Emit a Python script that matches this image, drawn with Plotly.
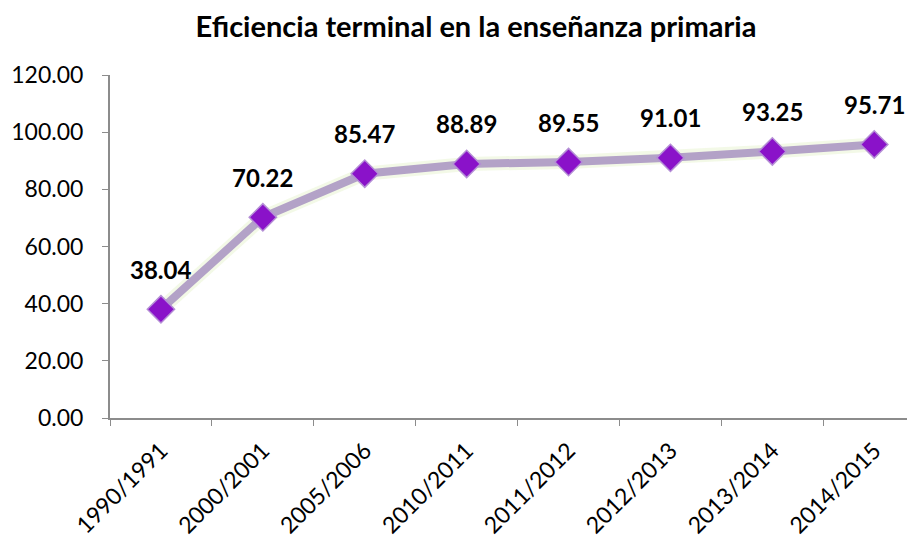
import plotly.graph_objects as go

categories = ["1990/1991", "2000/2001", "2005/2006", "2010/2011", "2011/2012", "2012/2013", "2013/2014", "2014/2015"]
values = [38.04, 70.22, 85.47, 88.89, 89.55, 91.01, 93.25, 95.71]
y_ticks = [0, 20, 40, 60, 80, 100, 120]

FONT = "Lato"

fig = go.Figure()
# glow
fig.add_trace(go.Scatter(x=categories, y=values, mode="lines",
                         line=dict(color="rgba(220,238,185,0.35)", width=14),
                         hoverinfo="skip", showlegend=False))
fig.add_trace(go.Scatter(x=categories, y=values, mode="lines+markers",
                         line=dict(color="#B3A2C7", width=8),
                         marker=dict(symbol="diamond", size=21, color="#8A12C9",
                                     line=dict(color="#B58FD6", width=1.5)),
                         showlegend=False))

for c, v in zip(categories, values):
    fig.add_annotation(x=c, y=v, text=f"<b>{v:.2f}</b>", showarrow=False,
                       yshift=40, font=dict(family=FONT, size=24, color="#000000"))

fig.update_layout(
    width=915, height=537,
    margin=dict(l=102, r=8, t=67, b=127),
    paper_bgcolor="white", plot_bgcolor="white",
    title=dict(text="<b>Eficiencia terminal en la enseñanza primaria</b>",
               x=468/915, xanchor="center", y=1-19/537, yanchor="middle",
               font=dict(family=FONT, size=29, color="#000000")),
    font=dict(family=FONT, size=23, color="#000000"),
)
fig.update_xaxes(type="category", range=[-0.5, 7.4], showgrid=False, automargin=False,
                 showline=True, linecolor="#8c8c8c", linewidth=2,
                 ticks="outside", tickson="boundaries", ticklen=6, tickcolor="#8c8c8c",
                 ticklabelstandoff=8,
                 tickangle=-45, tickfont=dict(family=FONT, size=23))
fig.update_yaxes(range=[0, 120], tickvals=y_ticks, ticktext=[f"{t:.2f}" for t in y_ticks],
                 showgrid=False, zeroline=False, automargin=False,
                 showline=True, linecolor="#8c8c8c", linewidth=2,
                 ticks="outside", ticklen=6, tickcolor="#8c8c8c",
                 ticklabelstandoff=14,
                 tickfont=dict(family=FONT, size=23))

fig.write_html("out.html")
